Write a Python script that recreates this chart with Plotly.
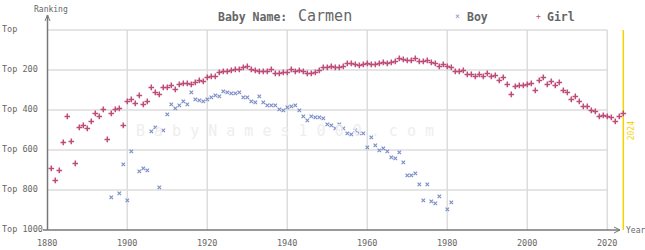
import plotly.graph_objects as go

# ---------------- data ----------------
girl_years = list(range(1881, 2025))
girl_ranks = [
    692, 752, 702, 562, 432, 557, 667, 487, 477, 492,   # 1881-1890
    457, 417, 432, 397, 547, 417, 397, 392, 477, 357,   # 1891-1900
    347, 367, 327, 372, 357, 287, 312, 322, 287, 287,   # 1901-1910
    277, 297, 272, 267, 267, 272, 262, 252, 257, 237,   # 1911-1920
    232, 232, 212, 207, 207, 202, 197, 197, 187, 182,   # 1921-1930
    197, 202, 207, 207, 207, 197, 217, 217, 212, 212,   # 1931-1940
    197, 207, 202, 207, 217, 217, 212, 202, 187, 187,   # 1941-1950
    182, 187, 187, 182, 167, 167, 172, 177, 172, 167,   # 1951-1960
    172, 172, 167, 162, 167, 162, 157, 142, 147, 152,   # 1961-1970
    152, 142, 157, 157, 152, 162, 167, 182, 172, 182,   # 1971-1980
    187, 207, 207, 202, 222, 222, 232, 222, 232, 217,   # 1981-1990
    232, 227, 252, 237, 272, 322, 282, 277, 277, 272,   # 1991-2000
    267, 302, 252, 237, 272, 257, 277, 262, 302, 312,   # 2001-2010
    347, 332, 357, 382, 382, 402, 407, 432, 427, 432,   # 2011-2020
    437, 457, 432, 417,                                 # 2021-2024
]

boy_years = [1896, 1898, 1899, 1900, 1901, 1903, 1904, 1905, 1906, 1907,
             1908, 1909, 1910, 1911, 1912, 1913, 1914, 1915, 1916, 1917,
             1918, 1919, 1920, 1921, 1922, 1923, 1924, 1925, 1926, 1927,
             1928, 1929, 1930, 1931, 1932, 1933, 1934, 1935, 1936, 1937,
             1938, 1939, 1940, 1941, 1942, 1943, 1944, 1945, 1946, 1947,
             1948, 1949, 1950, 1951, 1952, 1953, 1954, 1955, 1956, 1957,
             1958, 1959, 1960, 1961, 1962, 1963, 1964, 1965, 1966, 1967,
             1968, 1969, 1970, 1971, 1972, 1973, 1974, 1975, 1976, 1977,
             1978, 1980, 1981]
boy_ranks = [837, 817, 672, 852, 607, 707, 692, 702, 507, 487,
             787, 502, 422, 372, 392, 377, 357, 372, 312, 347,
             352, 357, 347, 337, 327, 332, 307, 312, 317, 317,
             312, 337, 337, 357, 362, 332, 362, 377, 377, 377,
             397, 402, 387, 382, 377, 402, 432, 452, 432, 437,
             437, 442, 472, 477, 492, 472, 492, 517, 522, 502,
             517, 517, 587, 537, 577, 602, 592, 607, 637, 642,
             612, 662, 727, 727, 717, 772, 852, 772, 857, 867,
             832, 897, 862]

y_tick_vals = [0, 200, 400, 600, 800, 1000]
y_tick_text = ["Top", "Top 200", "Top 400", "Top 600", "Top 800", "Top 1000"]
x_tick_vals = [1880, 1900, 1920, 1940, 1960, 1980, 2000, 2020]
x_tick_text = ["1880", "1900", "1920", "1940", "1960", "1980", "2000", "2020"]
current_year = 2024
name = "Carmen"

# ---------------- style ----------------
W, H = 645, 250
FONT = "DejaVu Sans Mono"
GIRL_C = "#bd4d78"
BOY_C = "#7d90c9"
GRID_C = "#dcdcdc"
AXIS_C = "#777777"
TEXT_C = "#666666"
YELLOW = "#f3d400"


def px(p):
    return p / W


def py(p):
    return 1 - p / H


fig = go.Figure()

fig.add_trace(go.Scatter(
    x=boy_years, y=boy_ranks, mode="markers", name="Boy",
    marker=dict(symbol="x-thin", size=3.5, line=dict(width=1.2, color=BOY_C), color=BOY_C),
    hoverinfo="x+y", cliponaxis=False,
))
fig.add_trace(go.Scatter(
    x=girl_years, y=girl_ranks, mode="markers", name="Girl",
    marker=dict(symbol="cross-thin", size=4, line=dict(width=1.5, color=GIRL_C), color=GIRL_C),
    hoverinfo="x+y", cliponaxis=False,
))

shapes = []
# grid
for v in x_tick_vals[1:]:
    shapes.append(dict(type="line", xref="x", yref="y", x0=v, x1=v, y0=0, y1=1000,
                       line=dict(color=GRID_C, width=1.5), layer="below"))
for v in y_tick_vals[:-1]:
    shapes.append(dict(type="line", xref="x", yref="y", x0=1880, x1=2020, y0=v, y1=v,
                       line=dict(color=GRID_C, width=1.5), layer="below"))
# current year line
shapes.append(dict(type="line", xref="x", yref="y", x0=current_year, x1=current_year,
                   y0=0, y1=1000, line=dict(color=YELLOW, width=1.5), layer="below"))
# axes
shapes.append(dict(type="line", xref="paper", yref="paper", x0=px(47.5), x1=px(47.5),
                   y0=py(230), y1=py(15), line=dict(color=AXIS_C, width=1.5)))
shapes.append(dict(type="line", xref="paper", yref="paper", x0=px(43), x1=px(620),
                   y0=py(230), y1=py(230), line=dict(color=AXIS_C, width=1.5)))
# arrow heads
shapes.append(dict(type="path", xref="paper", yref="paper",
                   path=f"M {px(45)} {py(21)} L {px(47.5)} {py(15)} L {px(50)} {py(21)}",
                   line=dict(color=AXIS_C, width=1)))
shapes.append(dict(type="path", xref="paper", yref="paper",
                   path=f"M {px(614)} {py(227)} L {px(620)} {py(230)} L {px(614)} {py(233)}",
                   line=dict(color=AXIS_C, width=1)))

ann = []
for v, t in zip(y_tick_vals, y_tick_text):
    ann.append(dict(xref="paper", yref="y", x=0, y=v - 3, text=t, showarrow=False,
                    xanchor="left", yanchor="middle",
                    font=dict(family=FONT, size=8.5, color=TEXT_C)))
for v, t in zip(x_tick_vals, x_tick_text):
    ann.append(dict(xref="x", yref="paper", x=v, y=py(243), text=t, showarrow=False,
                    xanchor="center", yanchor="middle",
                    font=dict(family=FONT, size=8.5, color=TEXT_C)))
ann.append(dict(xref="paper", yref="paper", x=px(32), y=py(9), text="Ranking", showarrow=False,
                xanchor="left", yanchor="middle", font=dict(family=FONT, size=8, color=TEXT_C)))
ann.append(dict(xref="paper", yref="paper", x=px(624), y=py(230), text="Year", showarrow=False,
                xanchor="left", yanchor="middle", font=dict(family=FONT, size=8, color=TEXT_C)))
# title
ann.append(dict(xref="paper", yref="paper", x=px(216), y=py(17), text="<b>Baby Name:</b>",
                showarrow=False, xanchor="left", yanchor="middle",
                font=dict(family=FONT, size=11.5, color=TEXT_C)))
ann.append(dict(xref="paper", yref="paper", x=px(296), y=py(16), text=name,
                showarrow=False, xanchor="left", yanchor="middle",
                font=dict(family=FONT, size=15, color=TEXT_C)))
# legend
ann.append(dict(xref="paper", yref="paper", x=px(457.5), y=py(16), text="×",
                showarrow=False, xanchor="center", yanchor="middle",
                font=dict(family=FONT, size=8, color=BOY_C)))
ann.append(dict(xref="paper", yref="paper", x=px(465), y=py(17), text="<b>Boy</b>",
                showarrow=False, xanchor="left", yanchor="middle",
                font=dict(family=FONT, size=11.5, color=TEXT_C)))
ann.append(dict(xref="paper", yref="paper", x=px(538), y=py(16), text="+",
                showarrow=False, xanchor="center", yanchor="middle",
                font=dict(family=FONT, size=8, color=GIRL_C)))
ann.append(dict(xref="paper", yref="paper", x=px(545), y=py(17), text="<b>Girl</b>",
                showarrow=False, xanchor="left", yanchor="middle",
                font=dict(family=FONT, size=11.5, color=TEXT_C)))
# watermark
ann.append(dict(xref="paper", yref="paper", x=px(285), y=py(131),
                text=" ".join("BabyNames1000.com"), showarrow=False,
                xanchor="center", yanchor="middle",
                font=dict(family=FONT, size=15, color="#eeeeee")))
# current year label
ann.append(dict(xref="x", yref="paper", x=current_year, y=py(131), xshift=8,
                text=str(current_year), textangle=-90, showarrow=False,
                xanchor="center", yanchor="middle",
                font=dict(family=FONT, size=8, color=YELLOW)))

fig.update_layout(
    width=W, height=H, autosize=False,
    margin=dict(l=0, r=0, t=0, b=0, pad=0),
    paper_bgcolor="white", plot_bgcolor="white",
    showlegend=False,
    xaxis=dict(range=[1880 - 47.3 / 4, 1880 + (W - 47.3) / 4], visible=False, fixedrange=True),
    yaxis=dict(range=[(H - 30) * 5, -30 * 5], visible=False, fixedrange=True),
    shapes=shapes, annotations=ann,
)

fig.write_html("out.html")
